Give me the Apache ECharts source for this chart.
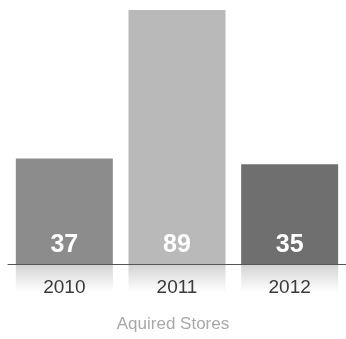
<!DOCTYPE html>
<html>
<head>
<meta charset="utf-8">
<style>
  html, body { margin: 0; padding: 0; background: #fff; }
  #chart { width: 346px; height: 339px; }
</style>
<script src="https://cdn.jsdelivr.net/npm/echarts@6/dist/echarts.min.js"></script>
</head>
<body>
<div id="chart"></div>
<script>
// Acquired stores per year
const years = ['2010', '2011', '2012'];
const storeCounts = [37, 89, 35];
const barColors = ['#8c8c8c', '#b9b9b9', '#6f6f6f'];
// depth of the soft shadow drawn under each bar, below the baseline
const shadowDepth = [-9.8, -9.8, -9.8];

const font = "'Liberation Sans', Arial, sans-serif";

const chart = echarts.init(document.getElementById('chart'));
chart.setOption({
  animation: false,
  title: {
    text: 'Aquired Stores',
    left: 'center',
    top: 311,
    textStyle: { color: '#a8a8a8', fontSize: 17, fontWeight: 'normal', fontFamily: font }
  },
  grid: { left: 8, top: 10, width: 339, bottom: 47, containLabel: false },
  xAxis: {
    type: 'category',
    data: years,
    z: 10,
    axisLine: { onZero: true, lineStyle: { color: '#555', width: 1 } },
    axisTick: { show: false },
    axisLabel: { color: '#3a3a3a', fontSize: 19, margin: -14, fontFamily: font }
  },
  yAxis: {
    type: 'value',
    min: -9.8,
    max: 89,
    show: false,
    splitLine: { show: false }
  },
  series: [
    {
      type: 'bar',
      stack: 'a',
      barWidth: 97,
      data: storeCounts.map((v, i) => ({ value: v, itemStyle: { color: barColors[i] } })),
      label: {
        show: true,
        position: 'insideBottom',
        distance: 6,
        color: '#fff',
        fontSize: 25,
        fontWeight: 'bold',
        fontFamily: font
      }
    },
    {
      type: 'bar',
      stack: 'b',
      barWidth: 97,
      barGap: '-100%',
      silent: true,
      data: shadowDepth,
      itemStyle: {
        color: new echarts.graphic.LinearGradient(0, 0, 0, 1, [
          { offset: 0, color: '#d2d2d2' },
          { offset: 1, color: '#ffffff' }
        ])
      },
      z: 1
    }
  ]
});
</script>
</body>
</html>
